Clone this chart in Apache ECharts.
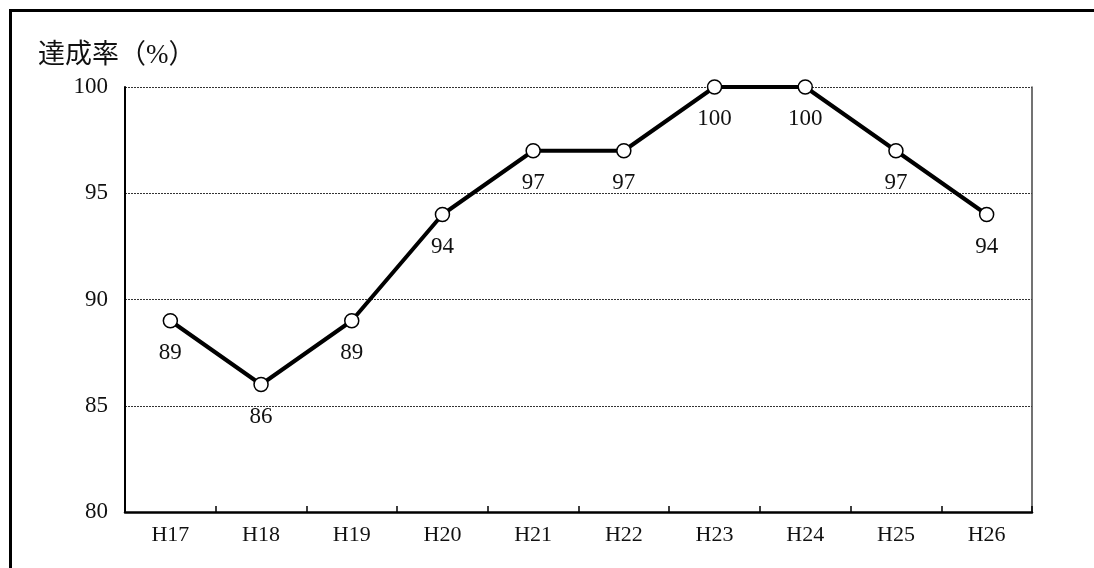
<!DOCTYPE html>
<html>
<head>
<meta charset="utf-8">
<style>
html, body { margin: 0; padding: 0; background: #fff; }
#chart { width: 1094px; height: 568px; }
</style>
<script src="https://cdn.jsdelivr.net/npm/echarts@6/dist/echarts.min.js"></script>
</head>
<body>
<div id="chart"></div>
<script>
// 年度
const years = ['H17', 'H18', 'H19', 'H20', 'H21', 'H22', 'H23', 'H24', 'H25', 'H26'];
// 達成率（%）
const rates = [89, 86, 89, 94, 97, 97, 100, 100, 97, 94];
const yMin = 80;
const yMax = 100;
const yStep = 5;

const serif = '"Liberation Serif", "Noto Sans CJK JP", serif';

const chart = echarts.init(document.getElementById('chart'));
chart.setOption({
    animation: false,
    backgroundColor: '#fff',
    textStyle: { fontFamily: serif, color: '#111' },
    title: {
        text: '達成率（%）',
        left: 33,
        top: 37,
        textStyle: { fontFamily: serif, fontSize: 27, fontWeight: 'normal', color: '#111' }
    },
    graphic: [
        // outer frame (top / left only, the rest is cropped)
        { type: 'line', shape: { x1: 10.5, y1: 9, x2: 10.5, y2: 568 }, style: { stroke: '#000', lineWidth: 3 } },
        { type: 'line', shape: { x1: 9, y1: 10.5, x2: 1094, y2: 10.5 }, style: { stroke: '#000', lineWidth: 3 } }
    ],
    grid: { left: 125, right: 62, top: 87, bottom: 56 },
    xAxis: {
        type: 'category',
        data: years,
        boundaryGap: true,
        axisLine: { lineStyle: { color: '#000', width: 2.5 } },
        axisTick: { show: true, inside: true, length: 6, lineStyle: { color: '#000', width: 1.5 } },
        axisLabel: { fontFamily: serif, fontSize: 22, color: '#111', margin: 12 }
    },
    yAxis: [
        {
            type: 'value',
            min: yMin,
            max: yMax,
            interval: yStep,
            axisLine: { show: true, lineStyle: { color: '#000', width: 2 } },
            axisTick: { show: false },
            axisLabel: { fontFamily: serif, fontSize: 23, color: '#111', margin: 17 },
            splitLine: { show: true, lineStyle: { color: '#333', width: 1, type: [2, 1] } }
        },
        {
            type: 'value',
            min: yMin,
            max: yMax,
            interval: yStep,
            position: 'right',
            axisLine: { show: true, lineStyle: { color: '#444', width: 1.5 } },
            axisTick: { show: false },
            axisLabel: { show: false },
            splitLine: { show: false }
        }
    ],
    series: [
        {
            type: 'line',
            data: rates,
            symbol: 'circle',
            symbolSize: 14,
            lineStyle: { color: '#000', width: 4 },
            itemStyle: { color: '#fff', borderColor: '#000', borderWidth: 1.5 },
            label: {
                show: true,
                position: 'bottom',
                distance: 13,
                fontFamily: serif,
                fontSize: 23,
                color: '#111'
            },
            z: 5
        }
    ]
});
</script>
</body>
</html>
